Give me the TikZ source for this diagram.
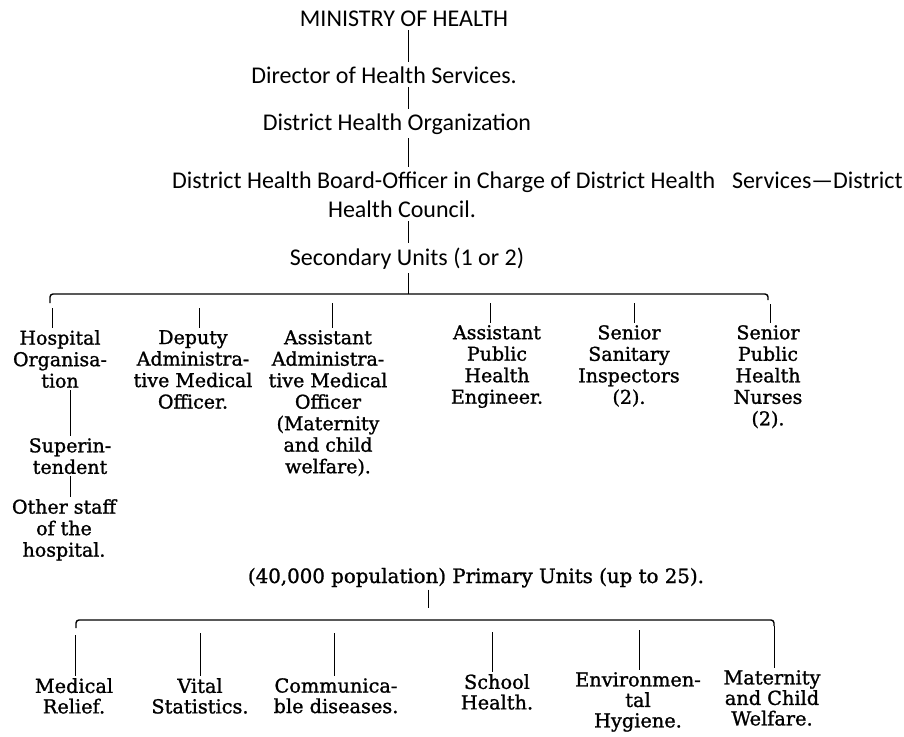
\documentclass[tikz,border=0pt]{standalone}
\usepackage{fontspec}
\usepackage{tikz}
\usetikzlibrary{positioning, calc}
\newfontfamily\calibrifam{Carlito}
\newfontfamily\scanfam[FakeBold=1.2]{DejaVu Serif}
\newcommand{\orgfont}{\calibrifam\fontsize{24}{28}\selectfont}
\newcommand{\secfont}{\scanfam\fontsize{19}{21.5}\selectfont}
\newcommand{\prifont}{\scanfam\fontsize{19.3}{20.5}\selectfont}
\tikzset{
toplabel/.style={%
    font=\orgfont,
    inner sep=4pt,
    anchor=base
},
secunit/.style={%
    font=\secfont,
    align=center,
    inner sep=2pt,
    anchor=north
},
priunit/.style={%
    secunit, font=\prifont
},
link/.style={draw=black, line width=1pt},
bracket/.style={link, line width=1.4pt, rounded corners=3pt},
}

\begin{document}
\begin{tikzpicture}[x=1pt,y=-1pt]
	\useasboundingbox[fill=white] (0,0) rectangle (904,736);
	\coordinate (axis) at (408,0);

	% chain at the top
	\node[toplabel] (ministry) at (404,26) {MINISTRY OF HEALTH};
	\node[toplabel] (director) at (384,83) {Director of Health Services.};
	\node[toplabel] (dho) at (397,130) {District Health Organization};
	\node[toplabel, anchor=base west] (board) at (168,188) {District Health Board-Officer in Charge of District Health\hspace{0.7em}Services—District};
	\node[toplabel] (council) at (402,217) {Health Council.};
	\node[toplabel] (secondary) at (407,265) {Secondary Units (1 or 2)};

	\draw[link] (axis |- ministry.south) -- (axis |- director.north);
	\draw[link] (axis |- director.south) -- (axis |- dho.north);
	\draw[link] (axis |- dho.south) -- (axis |- board.north);
	\draw[link] (axis |- council.south) -- (axis |- secondary.north);

	% secondary units
	\coordinate (secbar) at (408,294);
	\coordinate (secL) at (50,303);
	\coordinate (secR) at (768,300);
	\draw[link] (axis |- secondary.south) -- (secbar);
	\draw[bracket] (secL) |- (secbar) -| (secR);

	\node[secunit] (hosp) at (60,328) {Hospital\\Organisa-\\tion};
	\node[secunit] (supt) at (70,436) {Superin-\\tendent};
	\node[secunit] (staff) at (64,497) {Other staff\\of the\\hospital.};
	\node[secunit] (deputy) at (193,328) {Deputy\\Administra-\\tive Medical\\Officer.};
	\node[secunit] (asstamo) at (328,328) {Assistant\\Administra-\\tive Medical\\Officer\\(Maternity\\and child\\welfare).};
	\node[secunit] (asstphe) at (497,323) {Assistant\\Public\\Health\\Engineer.};
	\node[secunit] (ssi) at (629,323) {Senior\\Sanitary\\Inspectors\\(2).};
	\node[secunit] (sphn) at (768,323) {Senior\\Public\\Health\\Nurses\\(2).};

	\coordinate (s1) at (52,308);
	\coordinate (s2) at (199,308);
	\coordinate (s3) at (332,303);
	\coordinate (s4) at (490,303);
	\coordinate (s5) at (634,303);
	\coordinate (s6) at (770,304);
	\draw[link] (s1) -- (s1 |- hosp.north);
	\draw[link] (s2) -- (s2 |- deputy.north);
	\draw[link] (s3) -- (s3 |- asstamo.north);
	\draw[link] (s4) -- (s4 |- asstphe.north);
	\draw[link] (s5) -- (s5 |- ssi.north);
	\draw[link] (s6) -- (s6 |- sphn.north);
	\draw[link] (supt.north |- hosp.south) -- (supt.north);
	\draw[link] (supt.south) -- (supt.south |- staff.north);

	% primary units
	\node[toplabel, font=\scanfam\fontsize{19.8}{22}\selectfont, inner sep=2pt] (primary) at (476,583) {(40,000 population) Primary Units (up to 25).};
	\coordinate (prijoin) at (428,608);
	\coordinate (pribar) at (428,620);
	\coordinate (priL) at (76,628);
	\coordinate (priR) at (774,626);
	\draw[link] (prijoin |- primary.south) -- (prijoin);
	\draw[bracket] (priL) |- (pribar) -| (priR);

	\node[priunit] (medical) at (74,676) {Medical\\Relief.};
	\node[priunit] (vital) at (200,676) {Vital\\Statistics.};
	\node[priunit] (commun) at (336,676) {Communica-\\ble diseases.};
	\node[priunit] (school) at (497,672) {School\\Health.};
	\node[priunit] (environ) at (638,670) {Environmen-\\tal\\Hygiene.};
	\node[priunit] (maternity) at (772,668) {Maternity\\and Child\\Welfare.};

	\coordinate (p1) at (75,635);
	\coordinate (p2) at (200,633);
	\coordinate (p3) at (334,633);
	\coordinate (p4) at (492,632);
	\coordinate (p5) at (639,630);
	\draw[link] (p1) -- (p1 |- medical.north);
	\draw[link] (p2) -- (p2 |- vital.north);
	\draw[link] (p3) -- (p3 |- commun.north);
	\draw[link] (p4) -- (p4 |- school.north);
	\draw[link] (p5) -- (p5 |- environ.north);
	\draw[link] (priR) -- (priR |- maternity.north);

\end{tikzpicture}
\end{document}
